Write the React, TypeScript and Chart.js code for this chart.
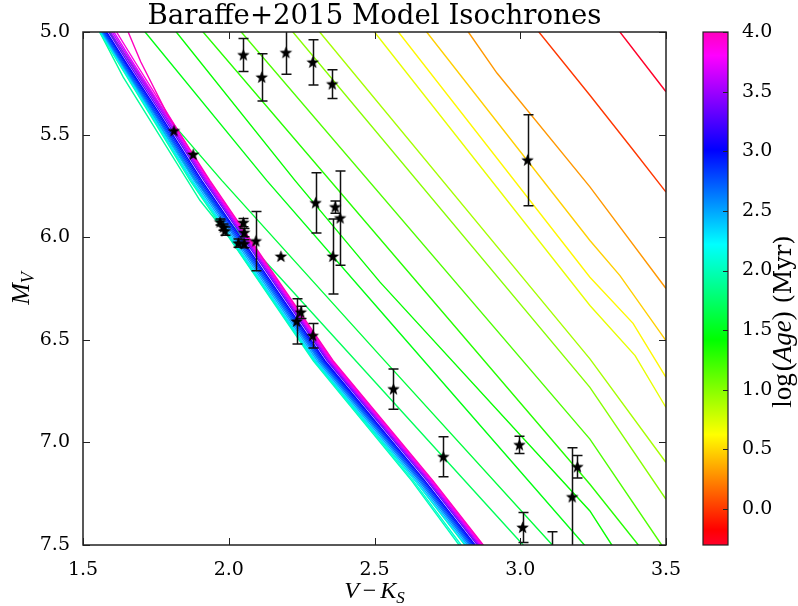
import { useEffect, useRef } from 'react';
import { Chart, registerables } from 'chart.js';

Chart.register(...registerables);

// ---- axes ----
const TITLE = 'Baraffe+2015 Model Isochrones';
const X_MIN = 1.5;
const X_MAX = 3.5;
const Y_MIN = 5.0;
const Y_MAX = 7.5;
const X_TICKS = [1.5, 2.0, 2.5, 3.0, 3.5];
const Y_TICKS = [5.0, 5.5, 6.0, 6.5, 7.0, 7.5];
const CB_TICKS = [0.0, 0.5, 1.0, 1.5, 2.0, 2.5, 3.0, 3.5, 4.0];
const LOG_AGE_MIN = -0.301;
const LOG_AGE_MAX = 4.0;

// ---- isochrones (age in Myr, V-Ks and M_V along each track) ----
const ISO_AGES_MYR = [
  0.5, 1, 2, 3, 4, 5, 8, 10, 15, 20, 25, 30, 40, 50, 80,
  100, 120, 200, 300, 400, 500, 625, 800, 1000, 2000, 3000, 4000, 5000, 8000, 10000,
];

const ISO_VK: number[][] = [
  [3.287, 3.342, 3.5, 3.559],
  [3.009, 3.064, 3.239, 3.388, 3.5, 3.566],
  [2.775, 2.822, 2.92, 3.239, 3.5, 3.553],
  [2.624, 2.679, 3.239, 3.342, 3.5, 3.55],
  [2.527, 2.582, 3.239, 3.387, 3.5, 3.55],
  [2.445, 2.5, 3.239, 3.394, 3.5, 3.56],
  [2.254, 2.312, 3.239, 3.5, 3.553],
  [2.161, 2.22, 3.239, 3.5, 3.559],
  [1.983, 2.043, 3.239, 3.485, 3.533],
  [1.852, 1.912, 3.239, 3.405, 3.461],
  [1.764, 1.82, 2.227, 2.519, 3.239, 3.314, 3.36],
  [1.655, 1.713, 2.13, 2.519, 3.22, 3.281],
  [1.55, 1.59, 1.81, 1.976, 2.519, 3.11, 3.174],
  [1.53, 1.57, 1.76, 1.885, 2.035, 2.154, 2.519, 3.01, 3.074],
  [1.52, 1.557, 1.638, 1.901, 1.993, 2.08, 2.294, 2.64, 2.81, 2.865],
  [1.514, 1.557, 1.619, 1.729, 1.867, 2.078, 2.29, 2.628, 2.79, 2.845],
  [1.516, 1.559, 1.621, 1.732, 1.871, 2.082, 2.294, 2.633, 2.797, 2.852],
  [1.518, 1.561, 1.624, 1.735, 1.875, 2.086, 2.298, 2.641, 2.813, 2.868],
  [1.521, 1.564, 1.627, 1.74, 1.881, 2.092, 2.304, 2.647, 2.819, 2.874],
  [1.524, 1.567, 1.631, 1.745, 1.887, 2.098, 2.31, 2.653, 2.825, 2.88],
  [1.527, 1.57, 1.634, 1.749, 1.892, 2.103, 2.315, 2.658, 2.83, 2.885],
  [1.53, 1.573, 1.638, 1.753, 1.897, 2.108, 2.32, 2.663, 2.835, 2.89],
  [1.534, 1.577, 1.642, 1.758, 1.902, 2.113, 2.325, 2.668, 2.84, 2.895],
  [1.538, 1.581, 1.646, 1.763, 1.907, 2.118, 2.33, 2.673, 2.845, 2.9],
  [1.545, 1.588, 1.653, 1.77, 1.915, 2.126, 2.338, 2.681, 2.853, 2.908],
  [1.551, 1.594, 1.659, 1.776, 1.92, 2.131, 2.343, 2.686, 2.858, 2.913],
  [1.557, 1.6, 1.665, 1.78, 1.924, 2.135, 2.347, 2.69, 2.862, 2.917],
  [1.563, 1.606, 1.67, 1.785, 1.927, 2.138, 2.35, 2.693, 2.865, 2.92],
  [1.572, 1.615, 1.678, 1.791, 1.931, 2.142, 2.354, 2.697, 2.869, 2.924],
  [1.625, 1.655, 1.698, 1.789, 1.935, 2.146, 2.358, 2.701, 2.873, 2.928],
];

const MS_MV = [4.9, 5.0, 5.145, 5.4, 5.723, 6.162, 6.602, 7.1875, 7.5, 7.6];

const ISO_MV: number[][] = [
  [4.9, 5.0, 5.291, 5.4],
  [4.9, 5.0, 5.308, 5.576, 5.78, 5.9],
  [4.9, 5.0, 5.2, 5.755, 6.25, 6.35],
  [4.9, 5.0, 6.016, 6.187, 6.504, 6.6],
  [4.9, 5.0, 6.195, 6.42, 6.683, 6.8],
  [4.9, 5.0, 6.333, 6.577, 6.83, 6.95],
  [4.9, 5.0, 6.593, 7.098, 7.2],
  [4.9, 5.0, 6.732, 7.277, 7.4],
  [4.9, 5.0, 6.984, 7.5, 7.6],
  [4.9, 5.0, 7.204, 7.5, 7.6],
  [4.9, 5.0, 5.723, 6.219, 7.334, 7.5, 7.6],
  [4.9, 5.0, 5.723, 6.357, 7.5, 7.6],
  [4.9, 5.0, 5.45, 5.723, 6.577, 7.5, 7.6],
  [4.9, 5.0, 5.45, 5.723, 5.98, 6.162, 6.732, 7.5, 7.6],
  [4.9, 5.0, 5.22, 5.82, 5.983, 6.162, 6.602, 7.1875, 7.5, 7.6],
  MS_MV, MS_MV, MS_MV, MS_MV, MS_MV, MS_MV, MS_MV, MS_MV, MS_MV,
  MS_MV, MS_MV, MS_MV, MS_MV, MS_MV, MS_MV,
];

// ---- observed stars ----
const STAR_VK = [
  2.05, 2.113, 2.196, 2.288, 2.355, 1.812, 1.878, 2.298, 2.365, 2.382,
  2.357, 2.179, 2.093, 1.97, 1.981, 1.987, 2.05, 2.053, 2.033, 2.053,
  2.233, 2.247, 2.288, 2.565, 2.736, 2.997, 3.008, 3.178, 3.196, 3.108,
  3.025,
];
const STAR_MV = [
  5.112, 5.221, 5.101, 5.148, 5.254, 5.482, 5.597, 5.833, 5.853, 5.907,
  6.094, 6.094, 6.019, 5.926, 5.951, 5.97, 5.929, 5.978, 6.029, 6.032,
  6.41, 6.366, 6.48, 6.74, 7.07, 7.012, 7.415, 7.266, 7.119, 7.58,
  5.625,
];
const STAR_ERR = [
  0.08, 0.115, 0.105, 0.11, 0.07, 0.0, 0.0, 0.147, 0.03, 0.23,
  0.183, 0.0, 0.144, 0.015, 0.015, 0.02, 0.02, 0.02, 0.02, 0.02,
  0.11, 0.03, 0.06, 0.098, 0.098, 0.042, 0.073, 0.24, 0.055, 0.145,
  0.222,
];

// gist_rainbow colour map: [position, r, g, b]
const RAINBOW_STOPS: number[][] = [
  [0.0, 1, 0, 0.16],
  [0.03, 1, 0, 0],
  [0.215, 1, 1, 0],
  [0.4, 0, 1, 0],
  [0.586, 0, 1, 1],
  [0.77, 0, 0, 1],
  [0.954, 1, 0, 1],
  [1.0, 1, 0, 0.75],
];

function rgbString(r: number, g: number, b: number) {
  return `rgb(${Math.round(r * 255)},${Math.round(g * 255)},${Math.round(b * 255)})`;
}

function rainbow(t: number) {
  const v = Math.min(1, Math.max(0, t));
  for (let i = 1; i < RAINBOW_STOPS.length; i++) {
    const a = RAINBOW_STOPS[i - 1];
    const b = RAINBOW_STOPS[i];
    if (v <= b[0]) {
      const f = (v - a[0]) / (b[0] - a[0]);
      return rgbString(a[1] + (b[1] - a[1]) * f, a[2] + (b[2] - a[2]) * f, a[3] + (b[3] - a[3]) * f);
    }
  }
  const last = RAINBOW_STOPS[RAINBOW_STOPS.length - 1];
  return rgbString(last[1], last[2], last[3]);
}

function ageColor(ageMyr: number) {
  return rainbow((Math.log10(ageMyr) - LOG_AGE_MIN) / (LOG_AGE_MAX - LOG_AGE_MIN));
}

function makeStarIcon() {
  const c = document.createElement('canvas');
  c.width = 15;
  c.height = 15;
  const g = c.getContext('2d')!;
  const cx = 7.5;
  const cy = 7.8;
  const R = 6.6;
  const r = 2.7;
  g.beginPath();
  for (let k = 0; k < 10; k++) {
    const ang = -Math.PI / 2 + (k * Math.PI) / 5;
    const rad = k % 2 === 0 ? R : r;
    const px = cx + rad * Math.cos(ang);
    const py = cy + rad * Math.sin(ang);
    if (k === 0) g.moveTo(px, py);
    else g.lineTo(px, py);
  }
  g.closePath();
  g.fillStyle = '#000';
  g.fill();
  return c;
}

type Part = { t: string; font: string; dy?: number; gapL?: number; gapR?: number };

function drawParts(ctx: CanvasRenderingContext2D, parts: Part[], cx: number, cy: number, rot: number) {
  ctx.save();
  ctx.translate(cx, cy);
  ctx.rotate(rot);
  let total = 0;
  const widths = parts.map((p) => {
    ctx.font = p.font;
    const w = ctx.measureText(p.t).width + (p.gapL || 0) + (p.gapR || 0);
    total += w;
    return w;
  });
  let x = -total / 2;
  ctx.fillStyle = '#000';
  ctx.textBaseline = 'alphabetic';
  ctx.textAlign = 'left';
  parts.forEach((p, i) => {
    ctx.font = p.font;
    ctx.fillText(p.t, x + (p.gapL || 0), p.dy || 0);
    x += widths[i];
  });
  ctx.restore();
}

const MATH = '"Liberation Serif"';
const SERIF = '"DejaVu Serif"';

const decorations = {
  id: 'decorations',
  beforeDatasetDraw(chart: any, args: any) {
    if (args.index !== 0) return;
    const { ctx, chartArea: a } = chart;
    const xs = chart.scales.x;
    const ys = chart.scales.y;
    ctx.save();
    ctx.beginPath();
    ctx.rect(a.left, a.top, a.right - a.left, a.bottom - a.top);
    ctx.clip();
    ctx.strokeStyle = '#111';
    ctx.lineWidth = 1.5;
    STAR_VK.forEach((vk, i) => {
      const e = STAR_ERR[i];
      if (e <= 0) return;
      const px = Math.round(xs.getPixelForValue(vk)) + 0.5;
      const y1 = ys.getPixelForValue(STAR_MV[i] - e);
      const y2 = ys.getPixelForValue(STAR_MV[i] + e);
      ctx.beginPath();
      ctx.moveTo(px, y1);
      ctx.lineTo(px, y2);
      ctx.moveTo(px - 5, y1);
      ctx.lineTo(px + 5, y1);
      ctx.moveTo(px - 5, y2);
      ctx.lineTo(px + 5, y2);
      ctx.stroke();
    });
    ctx.restore();
  },
  afterDatasetsDraw(chart: any) {
    const { ctx, chartArea: a } = chart;
    const xs = chart.scales.x;
    const ys = chart.scales.y;
    ctx.save();
    ctx.strokeStyle = '#222';
    ctx.lineWidth = 1;
    const tick = 7;
    ctx.beginPath();
    X_TICKS.forEach((v) => {
      const px = Math.round(xs.getPixelForValue(v)) + 0.5;
      ctx.moveTo(px, a.bottom);
      ctx.lineTo(px, a.bottom - tick);
      ctx.moveTo(px, a.top);
      ctx.lineTo(px, a.top + tick);
    });
    Y_TICKS.forEach((v) => {
      const py = Math.round(ys.getPixelForValue(v)) + 0.5;
      ctx.moveTo(a.left, py);
      ctx.lineTo(a.left + tick, py);
      ctx.moveTo(a.right, py);
      ctx.lineTo(a.right - tick, py);
    });
    ctx.stroke();
    ctx.lineWidth = 1.5;
    ctx.strokeStyle = '#222';
    ctx.strokeRect(a.left, a.top, a.right - a.left, a.bottom - a.top);
    ctx.restore();
  },
  afterDraw(chart: any) {
    const { ctx, chartArea: a } = chart;
    const cb = chart.scales.cb;

    // colour bar
    const left = a.right + 37;
    const width = 25;
    const top = cb.getPixelForValue(LOG_AGE_MAX);
    const bottom = cb.getPixelForValue(LOG_AGE_MIN);
    const grad = ctx.createLinearGradient(0, bottom, 0, top);
    RAINBOW_STOPS.forEach((s) => grad.addColorStop(s[0], rgbString(s[1], s[2], s[3])));
    ctx.save();
    ctx.fillStyle = grad;
    ctx.fillRect(left, top, width, bottom - top);
    ctx.strokeStyle = '#222';
    ctx.lineWidth = 1;
    ctx.beginPath();
    CB_TICKS.forEach((v) => {
      const py = Math.round(cb.getPixelForValue(v)) + 0.5;
      ctx.moveTo(left + width, py);
      ctx.lineTo(left + width - 5, py);
    });
    ctx.stroke();
    ctx.lineWidth = 1.2;
    ctx.strokeRect(left, top, width, bottom - top);
    ctx.restore();

    // axis labels
    const midX = (a.left + a.right) / 2;
    const midY = (a.top + a.bottom) / 2;
    drawParts(
      ctx,
      [
        { t: 'V', font: `italic 24px ${MATH}` },
        { t: '\u2212', font: `24px ${MATH}`, gapL: 4, gapR: 4 },
        { t: 'K', font: `italic 24px ${MATH}` },
        { t: 'S', font: `italic 17px ${MATH}`, dy: 5 },
      ],
      midX,
      598,
      0,
    );
    drawParts(
      ctx,
      [
        { t: 'M', font: `italic 26px ${MATH}` },
        { t: 'V', font: `italic 18px ${MATH}`, dy: 5 },
      ],
      29,
      midY,
      -Math.PI / 2,
    );
    drawParts(
      ctx,
      [
        { t: 'log', font: `27px ${MATH}`, gapR: 2 },
        { t: '(', font: `27px ${MATH}` },
        { t: 'Age', font: `italic 27px ${MATH}` },
        { t: ')', font: `27px ${MATH}` },
        { t: ' (Myr)', font: `24px ${SERIF}` },
      ],
      791,
      midY + 33,
      -Math.PI / 2,
    );
  },
};

export default function App() {
  const ref = useRef<HTMLCanvasElement>(null);

  useEffect(() => {
    const canvas = ref.current;
    if (!canvas) return;
    const starIcon = makeStarIcon();
    const n = ISO_AGES_MYR.length;

    const isoSets = ISO_AGES_MYR.map((age, i) => ({
      label: `${age} Myr`,
      data: ISO_VK[i].map((x, j) => ({ x, y: ISO_MV[i][j] })),
      showLine: true,
      borderColor: ageColor(age),
      backgroundColor: ageColor(age),
      borderWidth: 1.4,
      pointRadius: 0,
      pointHoverRadius: 0,
      fill: false,
      tension: 0,
      clip: 0,
      order: 1 + (n - 1 - i),
    }));

    const starSet = {
      label: 'stars',
      data: STAR_VK.map((x, i) => ({ x, y: STAR_MV[i] })),
      showLine: false,
      pointStyle: starIcon,
      pointRadius: 7,
      pointHoverRadius: 7,
      clip: 0,
      order: 0,
    };

    const tickFont = { family: SERIF, size: 19 };
    const noVerticalPad = (s: any) => {
      s.paddingTop = 0;
      s.paddingBottom = 0;
    };

    const chart = new Chart(canvas, {
      type: 'scatter',
      data: { datasets: [starSet, ...isoSets] as any },
      options: {
        animation: false,
        responsive: false,
        devicePixelRatio: 1,
        events: [],
        layout: { padding: 0 },
        plugins: {
          legend: { display: false },
          tooltip: { enabled: false },
          title: {
            display: true,
            fullSize: false,
            text: TITLE,
            color: '#000',
            font: { family: SERIF, size: 27.6, weight: 'normal', lineHeight: 1.0 },
            padding: { top: 3, bottom: 1.4 },
          },
        },
        scales: {
          x: {
            type: 'linear',
            min: X_MIN,
            max: X_MAX,
            grid: { display: false },
            border: { display: false },
            ticks: {
              font: tickFont,
              color: '#000',
              padding: 6,
              autoSkip: false,
              maxRotation: 0,
              callback: (v: any) => Number(v).toFixed(1),
            },
            afterBuildTicks: (s: any) => {
              s.ticks = X_TICKS.map((value) => ({ value }));
            },
            afterFit: (s: any) => {
              s.height = 61;
              s.paddingLeft = 0;
              s.paddingRight = 0;
            },
          },
          y: {
            type: 'linear',
            min: Y_MIN,
            max: Y_MAX,
            reverse: true,
            grid: { display: false },
            border: { display: false },
            ticks: {
              font: tickFont,
              color: '#000',
              padding: 5,
              autoSkip: false,
              callback: (v: any) => Number(v).toFixed(1),
            },
            afterBuildTicks: (s: any) => {
              s.ticks = Y_TICKS.map((value) => ({ value }));
            },
            afterFit: (s: any) => {
              s.width = 83;
              noVerticalPad(s);
            },
          },
          cb: {
            type: 'linear',
            position: 'right',
            axis: 'y',
            min: LOG_AGE_MIN,
            max: LOG_AGE_MAX,
            grid: { display: false },
            border: { display: false },
            ticks: {
              font: tickFont,
              color: '#000',
              padding: 68,
              autoSkip: false,
              callback: (v: any) => Number(v).toFixed(1),
            },
            afterBuildTicks: (s: any) => {
              s.ticks = CB_TICKS.map((value) => ({ value }));
            },
            afterFit: (s: any) => {
              s.width = 132;
              noVerticalPad(s);
            },
          },
        },
      } as any,
      plugins: [decorations],
    });

    return () => chart.destroy();
  }, []);

  return (
    <div style={{ position: 'fixed', left: 0, top: 0, width: 798, height: 606, background: '#fff' }}>
      <canvas ref={ref} width={798} height={606} style={{ display: 'block', width: 798, height: 606 }} />
    </div>
  );
}
